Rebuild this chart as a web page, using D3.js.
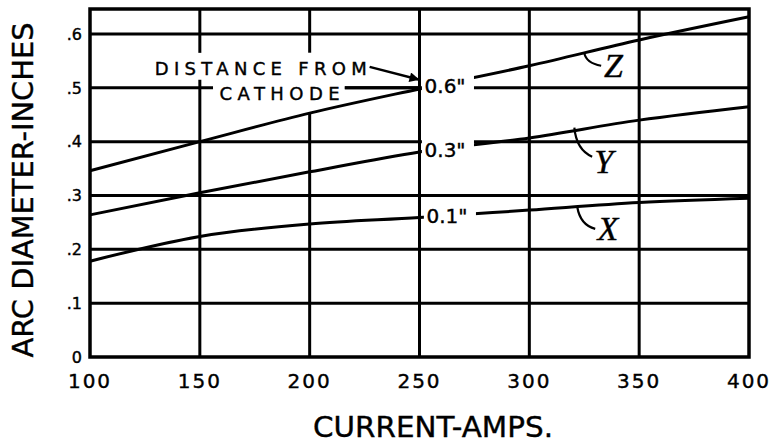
<!DOCTYPE html>
<html><head><meta charset="utf-8">
<script src="https://cdn.jsdelivr.net/npm/d3@7/dist/d3.min.js"></script>
<style>body{margin:0;background:#fff}svg{display:block} text{stroke:#000;stroke-width:0.4px}</style>
</head><body>
<svg id="c" width="772" height="443"></svg>
<script>
const amps = [100, 150, 200, 250, 300, 350, 400];
const seriesZ = [0.346, 0.400, 0.453, 0.498, 0.541, 0.589, 0.632];
const seriesY = [0.264, 0.305, 0.344, 0.381, 0.407, 0.440, 0.465];
const seriesX = [0.178, 0.224, 0.247, 0.259, 0.273, 0.287, 0.295];
const xTicks = [100, 150, 200, 250, 300, 350, 400];
const yTicks = [0, 0.1, 0.2, 0.3, 0.4, 0.5, 0.6];
const yTickLabels = ["0", ".1", ".2", ".3", ".4", ".5", ".6"];
const curveLabels = ['0.6"', '0.3"', '0.1"'];
const curveLetters = ["Z", "Y", "X"];

const svg = d3.select("#c");
const L = 90, R = 749, T = 9, B = 357;
const x = d3.scaleLinear().domain([100, 400]).range([L, R]);
const y = d3.scaleLinear().domain([0, 0.6]).range([B, 34]);
const series = [seriesZ, seriesY, seriesX];
const P = (a, v) => [x(a), y(v)];

// grid
const g = svg.append("g");
g.selectAll("line.v").data(xTicks.slice(1, -1)).join("line")
  .attr("x1", d => x(d)).attr("x2", d => x(d)).attr("y1", T).attr("y2", B)
  .attr("stroke", "#000").attr("stroke-width", 3);
g.selectAll("line.h").data(yTicks.slice(1)).join("line")
  .attr("x1", L).attr("x2", R).attr("y1", d => y(d)).attr("y2", d => y(d))
  .attr("stroke", "#000").attr("stroke-width", 3);

// white backgrounds for note text
const bgA = P(128, 0.565), bgA2 = P(228.5, 0.515);
svg.append("rect").attr("x", bgA[0]).attr("y", bgA[1]).attr("width", bgA2[0]-bgA[0]).attr("height", bgA2[1]-bgA[1]).attr("fill", "#fff");
const bgB = P(156, 0.565), bgB2 = P(216, 0.455);
svg.append("rect").attr("x", bgB[0]).attr("y", bgB[1]).attr("width", bgB2[0]-bgB[0]).attr("height", bgB2[1]-bgB[1]).attr("fill", "#fff");

// curves
const line = d3.line().x((d, i) => x(amps[i])).y(d => y(d)).curve(d3.curveMonotoneX);
svg.selectAll("path.curve").data(series).join("path")
  .attr("d", d => line(d)).attr("fill", "none").attr("stroke", "#000").attr("stroke-width", 3);

// frame
svg.append("rect").attr("x", L).attr("y", T).attr("width", R-L).attr("height", B-T)
  .attr("fill", "none").attr("stroke", "#000").attr("stroke-width", 3.5);

// curve labels with white background
const labelPos = [[252.3, 0.491], [252.3, 0.372], [253.2, 0.249]];
labelPos.forEach((p, i) => {
  const a = P(p[0] - 1.2, p[1] + 0.034), b = P(p[0] + 22.5, p[1] - 0.014);
  svg.append("rect").attr("x", a[0]).attr("y", a[1]).attr("width", b[0]-a[0]).attr("height", b[1]-a[1]).attr("fill", "#fff");
  svg.append("text").attr("x", x(p[0])).attr("y", y(p[1]))
    .attr("font-family", "DejaVu Sans").attr("font-size", 20).text(curveLabels[i]);
});

// note text
svg.append("text").attr("x", x(129.5)).attr("y", y(0.524))
  .attr("font-family", "DejaVu Sans").attr("font-size", 18)
  .attr("textLength", 212).attr("lengthAdjust", "spacing").text("DISTANCE FROM");
svg.append("text").attr("x", x(159)).attr("y", y(0.478))
  .attr("font-family", "DejaVu Sans").attr("font-size", 18)
  .attr("textLength", 120).attr("lengthAdjust", "spacing").text("CATHODE");

// arrow
svg.append("defs").append("marker").attr("id", "ah").attr("viewBox", "0 0 10 10")
  .attr("refX", 10).attr("refY", 5).attr("markerWidth", 5).attr("markerHeight", 4)
  .attr("markerUnits", "strokeWidth").attr("orient", "auto")
  .append("path").attr("d", "M0,0L10,5L0,10z").attr("fill", "#000");
const a1 = P(227.3, 0.539), a2 = P(250, 0.515);
svg.append("line").attr("x1", a1[0]).attr("y1", a1[1]).attr("x2", a2[0]).attr("y2", a2[1])
  .attr("stroke", "#000").attr("stroke-width", 2.5).attr("marker-end", "url(#ah)");
const c1 = P(216, 0.5), c2 = P(250, 0.5);
svg.append("line").attr("x1", c1[0]).attr("y1", c1[1]).attr("x2", c2[0]).attr("y2", c2[1])
  .attr("stroke", "#000").attr("stroke-width", 3);

// letter leaders and letters
const leaders = [
  [[325, 0.565], [325.9, 0.546], [332.7, 0.541]],
  [[320.5, 0.426], [321.4, 0.385], [328.6, 0.372]],
  [[321.8, 0.279], [323.2, 0.245], [330, 0.238]]
];
leaders.forEach(l => {
  const s = P(...l[0]), c = P(...l[1]), e = P(...l[2]);
  svg.append("path").attr("d", `M${s}Q${c} ${e}`).attr("fill", "none")
    .attr("stroke", "#000").attr("stroke-width", 2.2);
});
const letterPos = [[334, 0.520], [329.5, 0.342], [331, 0.2175]];
letterPos.forEach((p, i) => {
  svg.append("text").attr("x", x(p[0])).attr("y", y(p[1]))
    .attr("font-family", "Liberation Serif").attr("font-style", "italic")
    .attr("font-size", 34).text(curveLetters[i]);
});

// ticks labels
svg.selectAll("text.yt").data(yTicks).join("text")
  .attr("x", 82).attr("y", d => y(d)).attr("dy", "0.36em")
  .attr("text-anchor", "end").attr("font-family", "DejaVu Sans").attr("font-size", 16)
  .text((d, i) => yTickLabels[i]);
svg.selectAll("text.xt").data(xTicks).join("text")
  .attr("x", d => x(d)).attr("y", 388).attr("text-anchor", "middle")
  .attr("font-family", "DejaVu Sans").attr("font-size", 20).attr("letter-spacing", 2)
  .text(d => d);

// axis titles
svg.append("text").attr("x", 433).attr("y", 437).attr("text-anchor", "middle")
  .attr("font-family", "DejaVu Sans").attr("font-size", 29)
  .attr("textLength", 240).attr("lengthAdjust", "spacingAndGlyphs").text("CURRENT-AMPS.");
svg.append("text").attr("transform", "translate(33,190) rotate(-90)").attr("text-anchor", "middle")
  .attr("font-family", "DejaVu Sans").attr("font-size", 28)
  .attr("textLength", 335).attr("lengthAdjust", "spacingAndGlyphs").text("ARC DIAMETER-INCHES");
</script>
</body></html>
